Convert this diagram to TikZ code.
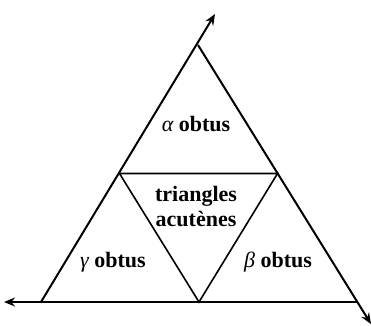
\documentclass[tikz,border=0pt]{standalone}
\usepackage{fontspec}
\setmainfont{Liberation Serif}
\newfontfamily\tmsfont{Liberation Serif}
\usetikzlibrary{arrows.meta,calc}
\tikzset{
  side/.style={line width=2pt, -{Stealth[length=11pt,width=9pt]}},
  inner/.style={line width=1.6pt},
  lbl/.style={font=\tmsfont\bfseries\fontsize{22}{25}\selectfont, inner sep=0pt, align=center}
}
\begin{document}
\begin{tikzpicture}[x=1pt,y=-1pt]
\useasboundingbox (0,0) rectangle (371,325);
\coordinate (A) at (198,45);
\coordinate (B) at (41,302);
\coordinate (C) at (357,302);
\coordinate (T) at (215,14);
\coordinate (L) at (4,302);
\coordinate (R) at (371,324);
\coordinate (MAB) at ($(A)!0.5!(B)$);
\coordinate (MAC) at ($(A)!0.5!(C)$);
\coordinate (MBC) at ($(B)!0.5!(C)$);
\draw[side] (B) -- (T);
\draw[side] (A) -- (R);
\draw[side] (C) -- (L);
\draw[inner] (MAB) -- (MAC) -- (MBC) -- cycle;
\node[lbl] (alpha) at (196,124) {{\itshape\mdseries α} obtus};
\node[lbl] (acute) at (196,206) {triangles\\acutènes};
\node[lbl] (gamma) at (113,262) {{\itshape\mdseries γ} obtus};
\node[lbl] (beta) at (278,262) {{\itshape\mdseries β} obtus};
\end{tikzpicture}
\end{document}
